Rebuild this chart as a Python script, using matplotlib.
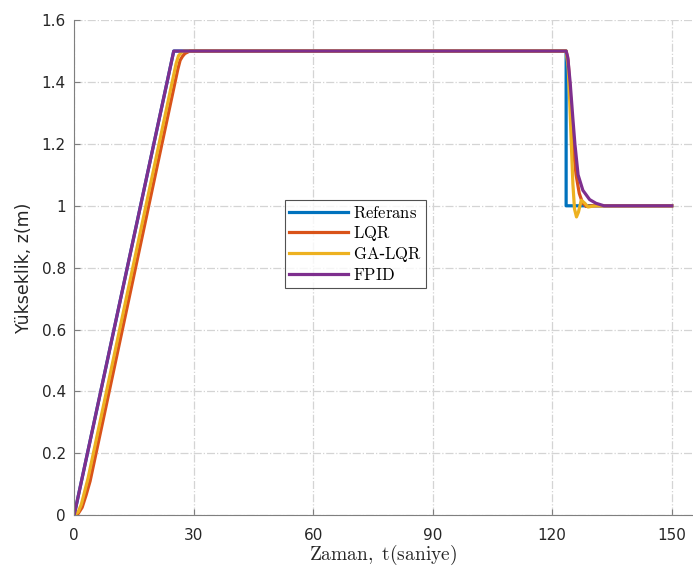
import numpy as np
from matplotlib import pyplot as plt

plt.rcParams['mathtext.fontset'] = 'cm'

# reference trajectory
t_ref = [0, 25, 123.5, 123.5, 150]
z_ref = [0, 1.5, 1.5, 1.0, 1.0]

# LQR response
t_lqr = [0, 1, 2, 3, 4, 26.0, 26.6, 27.2, 27.8, 29, 123.5, 124.0, 124.6, 125.2, 126.0, 126.8, 127.6, 128.5, 130, 150]
z_lqr = [0, 0.005, 0.025, 0.065, 0.11, 1.44, 1.47, 1.483, 1.492, 1.5, 1.5, 1.47, 1.35, 1.2, 1.1, 1.04, 1.01, 0.998, 1.0, 1.0]

# GA-LQR response
t_ga = [0, 1, 1.8, 2.6, 3.5, 25.6, 26.2, 26.9, 27.5, 28.5, 123.5, 124.0, 124.4, 124.8, 125.2, 125.6, 126.1, 126.6, 127.3, 128.2, 129.0, 129.8, 131, 150]
z_ga = [0, 0.01, 0.035, 0.075, 0.12, 1.46, 1.485, 1.495, 1.5, 1.5, 1.5, 1.45, 1.34, 1.2, 1.07, 0.99, 0.964, 0.98, 1.018, 1.008, 0.996, 0.998, 1.0, 1.0]

# FPID response
t_fpid = [0, 25, 123.5, 123.9, 124.5, 125.2, 125.7, 126.5, 127.7, 129.4, 131, 133, 150]
z_fpid = [0, 1.5, 1.5, 1.48, 1.4, 1.28, 1.2, 1.1, 1.05, 1.02, 1.008, 1.0, 1.0]

fig = plt.figure(figsize=(6.93, 5.75), dpi=100)
ax = fig.add_axes([0.107, 0.104, 0.891, 0.861])

lw = 2.3
ax.plot(t_ref, z_ref, color='#0072BD', lw=lw, label=r'$\mathrm{Referans}$')
ax.plot(t_lqr, z_lqr, color='#D95319', lw=lw, label=r'$\mathrm{LQR}$')
ax.plot(t_ga, z_ga, color='#EDB120', lw=lw, label=r'$\mathrm{GA}$-$\mathrm{LQR}$')
ax.plot(t_fpid, z_fpid, color='#7E2F8E', lw=lw, label=r'$\mathrm{FPID}$')

ax.set_xlim(0, 155)
ax.set_ylim(0, 1.6)
ax.set_xticks([0, 30, 60, 90, 120, 150])
ax.set_yticks(np.arange(0, 1.61, 0.2))
ax.set_yticklabels(['0', '0.2', '0.4', '0.6', '0.8', '1', '1.2', '1.4', '1.6'])

ax.grid(True, linestyle='-.', color='#d4d4d4', lw=0.9)
ax.set_axisbelow(True)
for s in ['top', 'right']:
    ax.spines[s].set_visible(False)
for s in ['left', 'bottom']:
    ax.spines[s].set_color('#7f7f7f')
ax.tick_params(direction='in', colors='#262626', labelsize=11, length=4)
ax.tick_params(axis='both', which='both', color='#7f7f7f')
ax.tick_params(axis='x', pad=9)
ax.tick_params(axis='y', pad=6)

ax.set_xlabel(r'$\mathrm{Zaman,\ t(saniye)}$', fontsize=14, color='#262626', labelpad=0)
ax.set_ylabel('Yükseklik, z(m)', fontsize=12.5, color='#262626', labelpad=6)

leg = ax.legend(loc='upper left', bbox_to_anchor=(0.342, 0.637), fontsize=12,
                handlelength=3.5, frameon=True, fancybox=False, borderpad=0.25,
                labelspacing=0.12, handletextpad=0.3, borderaxespad=0)
leg.get_frame().set_edgecolor('#262626')
leg.get_frame().set_linewidth(0.8)

plt.savefig('out.png', dpi=100)
